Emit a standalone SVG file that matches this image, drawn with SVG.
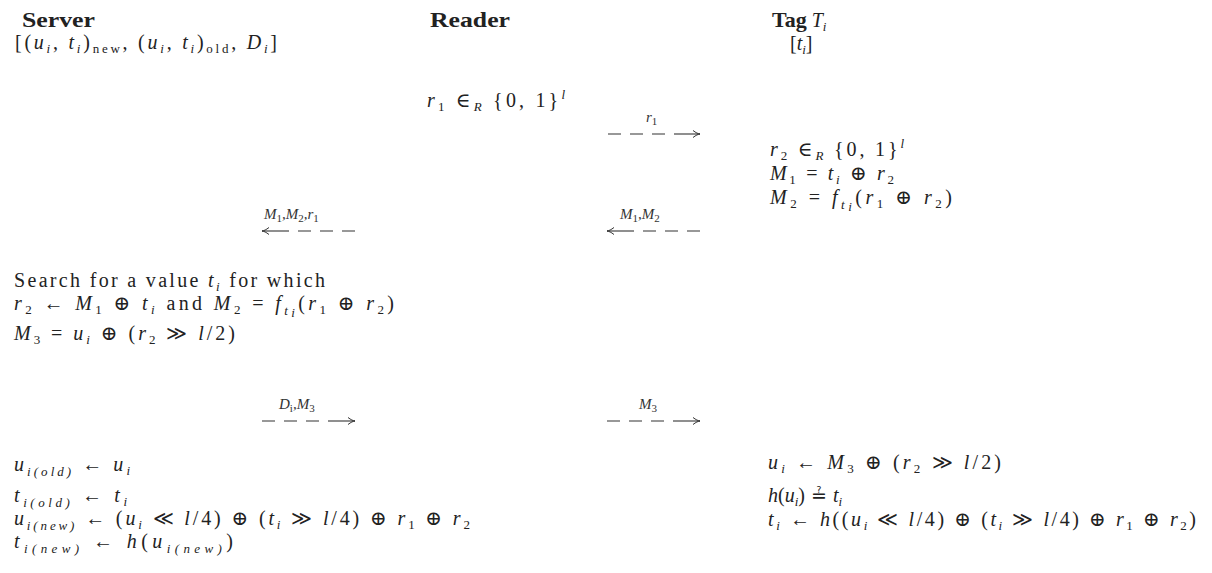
<svg xmlns="http://www.w3.org/2000/svg" width="1212" height="573" viewBox="0 0 1212 573">
<style>
.t{font-family:"Liberation Serif","DejaVu Serif",serif;font-size:20px;fill:#222}
.b{font-weight:bold;font-size:22px}
.i{font-style:italic}
.s{font-size:13px}
.q{font-family:"DejaVu Serif","DejaVu Sans",serif;font-size:19px}
.l{font-family:"Liberation Serif","DejaVu Serif",serif;font-size:15px;fill:#333;font-style:italic}
.ls{font-size:11px;font-style:normal}
.c{stroke:#333;stroke-width:1.1;fill:none}
</style>
<defs>
<marker id="ah" markerUnits="userSpaceOnUse" markerWidth="12" markerHeight="10" viewBox="-8 -5 9 10" refX="0" refY="0" orient="auto">
<path d="M-7,-3.5 C-4,-1.2 -2,-0.3 0,0 C-2,0.3 -4,1.2 -7,3.5" stroke="#333" stroke-width="1" fill="none"/>
</marker>
</defs>
<rect width="1212" height="573" fill="#fff"/>

<g id="server">
<text class="t b" x="22" y="27" textLength="73" lengthAdjust="spacingAndGlyphs">Server</text>
<text class="t" x="15" y="49" textLength="262" lengthAdjust="spacing">[(<tspan class="i">u</tspan><tspan class="s i" dy="4">i</tspan><tspan dy="-4">, </tspan><tspan class="i">t</tspan><tspan class="s i" dy="4">i</tspan><tspan dy="-4">)</tspan><tspan class="s" dy="4">new</tspan><tspan dy="-4">, (</tspan><tspan class="i">u</tspan><tspan class="s i" dy="4">i</tspan><tspan dy="-4">, </tspan><tspan class="i">t</tspan><tspan class="s i" dy="4">i</tspan><tspan dy="-4">)</tspan><tspan class="s" dy="4">old</tspan><tspan dy="-4">, </tspan><tspan class="i">D</tspan><tspan class="s i" dy="4">i</tspan><tspan dy="-4">]</tspan></text>
<text class="t" x="14" y="287" textLength="311" lengthAdjust="spacing">Search for a value <tspan class="i">t</tspan><tspan class="s i" dy="4">i</tspan><tspan dy="-4"> for which</tspan></text>
<text class="t" x="14" y="310" textLength="380" lengthAdjust="spacing"><tspan class="i">r</tspan><tspan class="s" dy="4">2</tspan><tspan dy="-4"> ← </tspan><tspan class="i">M</tspan><tspan class="s" dy="4">1</tspan><tspan dy="-4"> ⊕ </tspan><tspan class="i">t</tspan><tspan class="s i" dy="4">i</tspan><tspan dy="-4"> and </tspan><tspan class="i">M</tspan><tspan class="s" dy="4">2</tspan><tspan dy="-4"> = </tspan><tspan class="i">f</tspan><tspan class="s i" dy="5">t</tspan><tspan class="s i" dy="2" font-size="10">i</tspan><tspan dy="-7">(</tspan><tspan class="i">r</tspan><tspan class="s" dy="4">1</tspan><tspan dy="-4"> ⊕ </tspan><tspan class="i">r</tspan><tspan class="s" dy="4">2</tspan><tspan dy="-4">)</tspan></text>
<text class="t" x="14" y="340" textLength="221" lengthAdjust="spacing"><tspan class="i">M</tspan><tspan class="s" dy="4">3</tspan><tspan dy="-4"> = </tspan><tspan class="i">u</tspan><tspan class="s i" dy="4">i</tspan><tspan dy="-4"> ⊕ (</tspan><tspan class="i">r</tspan><tspan class="s" dy="4">2</tspan><tspan dy="-4"> ≫ </tspan><tspan class="i">l</tspan><tspan>/2)</tspan></text>
<text class="t" x="14" y="471" textLength="116" lengthAdjust="spacing"><tspan class="i">u</tspan><tspan class="s i" dy="5">i(old)</tspan><tspan dy="-5"> ← </tspan><tspan class="i">u</tspan><tspan class="s i" dy="4">i</tspan></text>
<text class="t" x="14" y="502" textLength="113" lengthAdjust="spacing"><tspan class="i">t</tspan><tspan class="s i" dy="5">i(old)</tspan><tspan dy="-5"> ← </tspan><tspan class="i">t</tspan><tspan class="s i" dy="4">i</tspan></text>
<text class="t" x="14" y="525" textLength="456" lengthAdjust="spacing"><tspan class="i">u</tspan><tspan class="s i" dy="5">i(new)</tspan><tspan dy="-5"> ← (</tspan><tspan class="i">u</tspan><tspan class="s i" dy="4">i</tspan><tspan dy="-4"> ≪ </tspan><tspan class="i">l</tspan><tspan>/4) ⊕ (</tspan><tspan class="i">t</tspan><tspan class="s i" dy="4">i</tspan><tspan dy="-4"> ≫ </tspan><tspan class="i">l</tspan><tspan>/4) ⊕ </tspan><tspan class="i">r</tspan><tspan class="s" dy="4">1</tspan><tspan dy="-4"> ⊕ </tspan><tspan class="i">r</tspan><tspan class="s" dy="4">2</tspan></text>
<text class="t" x="14" y="548" textLength="219" lengthAdjust="spacing"><tspan class="i">t</tspan><tspan class="s i" dy="5">i(new)</tspan><tspan dy="-5"> ← </tspan><tspan class="i">h</tspan><tspan>(</tspan><tspan class="i">u</tspan><tspan class="s i" dy="5">i(new)</tspan><tspan dy="-5">)</tspan></text>
</g>

<g id="reader">
<text class="t b" x="430" y="27" textLength="80" lengthAdjust="spacingAndGlyphs">Reader</text>
<text class="t" x="427" y="107" textLength="138" lengthAdjust="spacing"><tspan class="i">r</tspan><tspan class="s" dy="4">1</tspan><tspan dy="-4"> ∈</tspan><tspan class="s i" dy="4">R</tspan><tspan dy="-4"> {0, 1}</tspan><tspan class="s i" dy="-8">l</tspan></text>
</g>

<g id="tag">
<text class="t" x="772" y="27"><tspan class="b">Tag</tspan> <tspan class="i">T</tspan><tspan class="s i" dy="4">i</tspan></text>
<text class="t" x="790" y="50">[<tspan class="i">t</tspan><tspan class="s i" dy="4">i</tspan><tspan dy="-4">]</tspan></text>
<text class="t" x="770" y="156" textLength="134" lengthAdjust="spacing"><tspan class="i">r</tspan><tspan class="s" dy="4">2</tspan><tspan dy="-4"> ∈</tspan><tspan class="s i" dy="4">R</tspan><tspan dy="-4"> {0, 1}</tspan><tspan class="s i" dy="-8">l</tspan></text>
<text class="t" x="770" y="180" textLength="124" lengthAdjust="spacing"><tspan class="i">M</tspan><tspan class="s" dy="4">1</tspan><tspan dy="-4"> = </tspan><tspan class="i">t</tspan><tspan class="s i" dy="4">i</tspan><tspan dy="-4"> ⊕ </tspan><tspan class="i">r</tspan><tspan class="s" dy="4">2</tspan></text>
<text class="t" x="770" y="204" textLength="182" lengthAdjust="spacing"><tspan class="i">M</tspan><tspan class="s" dy="4">2</tspan><tspan dy="-4"> = </tspan><tspan class="i">f</tspan><tspan class="s i" dy="5">t</tspan><tspan class="s i" dy="2" font-size="10">i</tspan><tspan dy="-7">(</tspan><tspan class="i">r</tspan><tspan class="s" dy="4">1</tspan><tspan dy="-4"> ⊕ </tspan><tspan class="i">r</tspan><tspan class="s" dy="4">2</tspan><tspan dy="-4">)</tspan></text>
<text class="t" x="768" y="469" textLength="233" lengthAdjust="spacing"><tspan class="i">u</tspan><tspan class="s i" dy="4">i</tspan><tspan dy="-4"> ← </tspan><tspan class="i">M</tspan><tspan class="s" dy="4">3</tspan><tspan dy="-4"> ⊕ (</tspan><tspan class="i">r</tspan><tspan class="s" dy="4">2</tspan><tspan dy="-4"> ≫ </tspan><tspan class="i">l</tspan><tspan>/2)</tspan></text>
<text class="t" x="768" y="502"><tspan class="i">h</tspan>(<tspan class="i">u</tspan><tspan class="s i" dy="4">i</tspan><tspan dy="-4">)</tspan><tspan class="q"> ≟ </tspan><tspan class="i">t</tspan><tspan class="s i" dy="4">i</tspan></text>
<text class="t" x="768" y="526" textLength="428" lengthAdjust="spacing"><tspan class="i">t</tspan><tspan class="s i" dy="4">i</tspan><tspan dy="-4"> ← </tspan><tspan class="i">h</tspan><tspan>((</tspan><tspan class="i">u</tspan><tspan class="s i" dy="4">i</tspan><tspan dy="-4"> ≪ </tspan><tspan class="i">l</tspan><tspan>/4) ⊕ (</tspan><tspan class="i">t</tspan><tspan class="s i" dy="4">i</tspan><tspan dy="-4"> ≫ </tspan><tspan class="i">l</tspan><tspan>/4) ⊕ </tspan><tspan class="i">r</tspan><tspan class="s" dy="4">1</tspan><tspan dy="-4"> ⊕ </tspan><tspan class="i">r</tspan><tspan class="s" dy="4">2</tspan><tspan dy="-4">)</tspan></text>
</g>

<g id="connectors">
<g id="msg-r1">
<path class="c" d="M608,134h13M630,134h13M652,134h13"/>
<path class="c" d="M674,134H700" marker-end="url(#ah)"/>
<text class="l" x="646" y="122">r<tspan class="ls" dy="3">1</tspan></text>
</g>
<g id="msg-m1m2">
<path class="c" d="M634,231H607" marker-end="url(#ah)"/>
<path class="c" d="M643,231h13M665,231h13M687,231h13"/>
<text class="l" x="620" y="219">M<tspan class="ls" dy="3">1</tspan><tspan dy="-3">,M</tspan><tspan class="ls" dy="3">2</tspan></text>
</g>
<g id="msg-m1m2r1">
<path class="c" d="M289,231H262" marker-end="url(#ah)"/>
<path class="c" d="M298,231h13M320,231h13M342,231h13"/>
<text class="l" x="264" y="219">M<tspan class="ls" dy="3">1</tspan><tspan dy="-3">,M</tspan><tspan class="ls" dy="3">2</tspan><tspan dy="-3">,r</tspan><tspan class="ls" dy="3">1</tspan></text>
</g>
<g id="msg-dim3">
<path class="c" d="M262,421h13M284,421h13M306,421h13"/>
<path class="c" d="M328,421H355" marker-end="url(#ah)"/>
<text class="l" x="279" y="409">D<tspan class="ls" font-style="italic" dy="3">i</tspan><tspan dy="-3">,M</tspan><tspan class="ls" dy="3">3</tspan></text>
</g>
<g id="msg-m3">
<path class="c" d="M607,421h13M629,421h13M651,421h13"/>
<path class="c" d="M673,421H700" marker-end="url(#ah)"/>
<text class="l" x="639" y="409">M<tspan class="ls" dy="3">3</tspan></text>
</g>
</g>
</svg>
